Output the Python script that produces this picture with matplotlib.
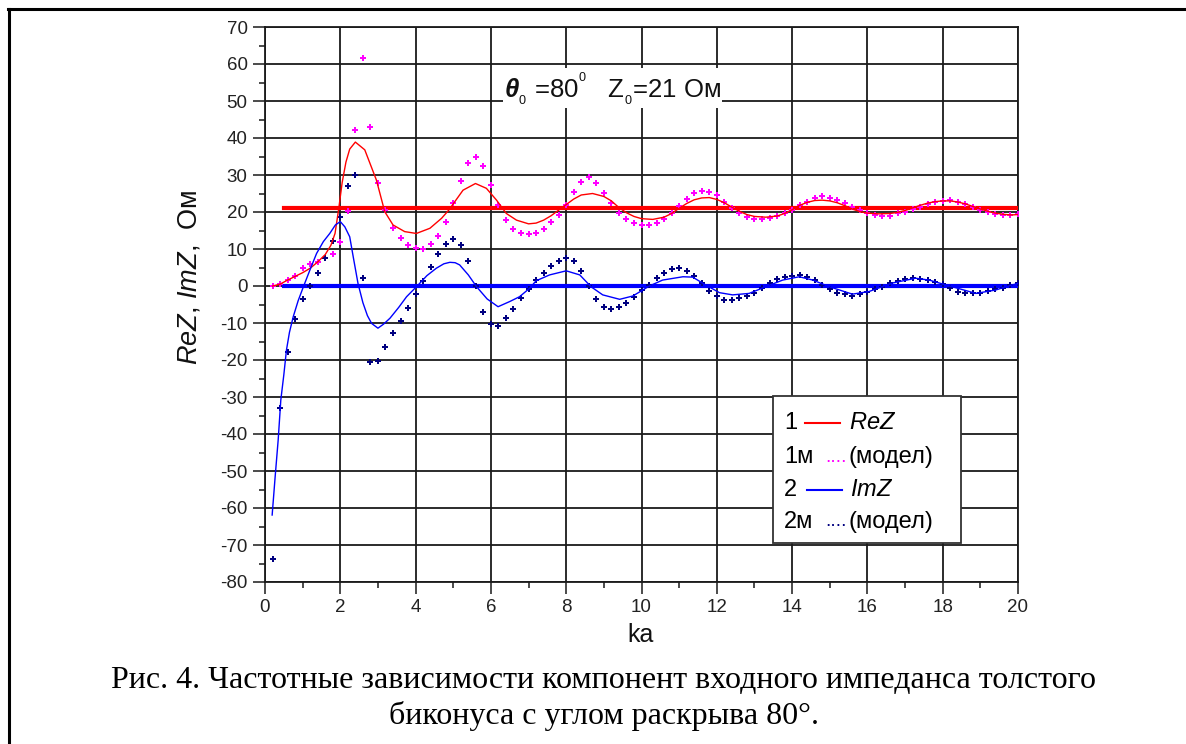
import numpy as np
import matplotlib
matplotlib.use("Agg")
import matplotlib.pyplot as plt
from matplotlib.lines import Line2D
from matplotlib.patches import Rectangle

plt.rcParams['font.family'] = ['Liberation Sans', 'DejaVu Sans']
plt.rcParams['mathtext.fontset'] = 'custom'
plt.rcParams['mathtext.rm'] = 'Liberation Sans'
plt.rcParams['mathtext.it'] = 'Liberation Sans:italic'
plt.rcParams['mathtext.bf'] = 'Liberation Sans:bold:italic'
plt.rcParams['axes.unicode_minus'] = False

#Limiting values: Z0 of the infinite biconical line
Z0 = 21.0
ka_const = [0.5, 20.0]

#Calculated curves (solid)
ka_re = [0.2, 0.4, 0.6, 0.8, 1.0, 1.2, 1.4, 1.6, 1.75, 1.86, 1.96, 2.05, 2.15, 2.25, 2.4,
         2.65, 2.96, 3.18, 3.4, 3.71, 4.02, 4.38, 4.69, 4.88, 5.26, 5.59, 5.88, 6.15, 6.41,
         6.68, 7.0, 7.2, 7.4, 7.6, 7.8, 8.0, 8.2, 8.4, 8.7, 9.0, 9.2, 9.4, 9.6, 9.8, 10.0,
         10.3, 10.6, 10.8, 11.0, 11.2, 11.4, 11.6, 11.8, 12.0, 12.2, 12.4, 12.6, 12.8, 13.0,
         13.3, 13.6, 13.8, 14.0, 14.2, 14.4, 14.6, 14.8, 15.0, 15.2, 15.4, 15.6, 15.8, 16.0,
         16.3, 16.6, 16.8, 17.0, 17.2, 17.4, 17.6, 17.8, 18.0, 18.2, 18.4, 18.6, 18.8, 19.0,
         19.2, 19.4, 19.6, 19.8, 20.0]
re_z = [0.0, 0.5, 1.6, 2.6, 3.6, 4.8, 6.5, 8.5, 11.0, 14.2, 21.0, 28.0, 33.5, 37.0, 38.9,
        36.8, 28.6, 20.1, 16.5, 14.7, 14.2, 15.6, 18.3, 20.5, 25.9, 27.7, 26.4, 23.2, 19.6,
        17.8, 16.8, 17.0, 17.8, 19.0, 20.5, 22.0, 23.5, 24.6, 25.0, 24.2, 23.0, 21.2, 19.8,
        18.8, 18.2, 18.0, 18.6, 19.6, 21.0, 22.3, 23.3, 23.8, 23.9, 23.4, 22.5, 21.3, 20.2,
        19.3, 18.8, 18.6, 18.9, 19.6, 20.6, 21.8, 22.6, 23.1, 23.2, 23.0, 22.5, 21.7, 20.8,
        20.1, 19.7, 19.5, 19.6, 19.9, 20.4, 21.1, 21.8, 22.4, 22.8, 23.0, 23.0, 22.7, 22.2,
        21.5, 20.8, 20.2, 19.7, 19.4, 19.2, 19.3]

ka_im = [0.19, 0.27, 0.35, 0.42, 0.5, 0.57, 0.65, 0.75, 0.88, 1.02, 1.2, 1.37, 1.55, 1.72,
         1.87, 2.0, 2.12, 2.25, 2.35, 2.47, 2.6, 2.72, 2.83, 3.0, 3.15, 3.32, 3.55, 3.76,
         4.07, 4.3, 4.55, 4.75, 4.91, 5.05, 5.17, 5.4, 5.62, 5.9, 6.19, 6.5, 6.76, 7.03,
         7.2, 7.56, 8.0, 8.36, 8.66, 8.97, 9.42, 9.77, 10.21, 10.56, 11.1, 11.36, 11.7,
         12.07, 12.42, 12.86, 13.3, 13.75, 14.19, 14.55, 14.99, 15.6, 16.04, 16.66, 17.28,
         17.64, 18.08, 18.88, 19.4, 19.85, 20.0]
im_z = [-61.9, -51.5, -41.6, -30.8, -24.0, -17.3, -12.5, -8.3, -4.0, -0.2, 4.5, 8.8, 12.0,
        14.2, 16.5, 17.4, 16.0, 13.3, 7.5, 0.7, -4.5, -8.0, -10.1, -11.4, -10.3, -8.7, -5.8,
        -2.9, 0.3, 2.8, 4.8, 6.0, 6.4, 6.3, 5.7, 3.0, -0.2, -3.5, -5.6, -4.2, -2.9, -0.6,
        1.4, 3.0, 4.1, 3.0, -0.2, -2.4, -3.6, -2.7, 0.0, 1.6, 2.5, 2.4, 0.3, -1.8, -2.4,
        -2.0, -0.2, 1.6, 2.5, 1.6, -0.2, -2.2, -1.5, 0.8, 2.1, 1.6, 0.3, -2.0, -1.1, 0.3, 0.7]

#Model points (dotted series), step 0.2 in ka
ka_model = [0.2, 0.4, 0.6, 0.8, 1.0, 1.2, 1.4, 1.6, 1.8, 2.0, 2.2, 2.4, 2.6, 2.8, 3.0, 3.2,
            3.4, 3.6, 3.8, 4.0, 4.2, 4.4, 4.6, 4.8, 5.0, 5.2, 5.4, 5.6, 5.8, 6.0, 6.2, 6.4,
            6.6, 6.8, 7.0, 7.2, 7.4, 7.6, 7.8, 8.0, 8.2, 8.4, 8.6, 8.8, 9.0, 9.2, 9.4, 9.6,
            9.8, 10.0, 10.2, 10.4, 10.6, 10.8, 11.0, 11.2, 11.4, 11.6, 11.8, 12.0, 12.2, 12.4,
            12.6, 12.8, 13.0, 13.2, 13.4, 13.6, 13.8, 14.0, 14.2, 14.4, 14.6, 14.8, 15.0, 15.2,
            15.4, 15.6, 15.8, 16.0, 16.2, 16.4, 16.6, 16.8, 17.0, 17.2, 17.4, 17.6, 17.8, 18.0,
            18.2, 18.4, 18.6, 18.8, 19.0, 19.2, 19.4, 19.6, 19.8, 20.0]
re_model = [0.1, 0.5, 1.6, 2.8, 4.8, 5.9, 6.6, 7.5, 8.6, 12.0, 20.4, 42.2, 61.5, 42.9, 27.8,
            20.5, 15.6, 12.9, 11.0, 10.2, 10.1, 11.4, 13.5, 17.2, 22.5, 28.4, 33.2, 34.8, 32.4,
            27.3, 21.9, 17.8, 15.3, 14.2, 14.1, 14.4, 15.3, 17.4, 19.2, 21.9, 25.3, 28.2, 29.4,
            27.8, 25.1, 22.4, 19.6, 18.0, 17.1, 16.5, 16.5, 16.9, 18.0, 19.6, 21.6, 23.4, 25.1,
            25.7, 25.5, 24.6, 22.8, 21.0, 19.6, 18.7, 18.0, 18.0, 18.3, 18.9, 19.8, 20.5, 21.9,
            22.8, 23.7, 24.3, 23.9, 23.2, 22.4, 21.3, 20.5, 19.6, 19.2, 18.9, 19.0, 19.6, 20.1,
            20.7, 21.4, 22.2, 22.8, 23.1, 23.2, 22.8, 22.2, 21.4, 20.5, 20.1, 19.5, 19.2, 19.2,
            19.5]
im_model = [-73.7, -33.1, -17.8, -8.9, -3.5, 0.0, 3.4, 7.5, 12.2, 18.7, 27.0, 30.0, 2.1, -20.5,
            -20.2, -16.6, -12.8, -9.4, -5.9, -2.2, 1.4, 5.2, 8.6, 11.4, 12.6, 11.1, 6.8, 0.0,
            -6.9, -10.3, -10.8, -8.7, -6.3, -3.2, -0.9, 1.6, 3.6, 5.4, 6.8, 7.5, 6.8, 4.1, 0.0,
            -3.6, -5.6, -6.3, -5.6, -4.5, -2.9, -1.1, 0.3, 2.1, 3.4, 4.5, 4.8, 4.1, 2.7, 0.9,
            -1.3, -2.7, -3.8, -3.8, -3.3, -2.7, -1.8, -0.6, 0.9, 1.8, 2.5, 2.7, 3.0, 2.5, 1.6,
            0.3, -0.9, -1.8, -2.2, -2.6, -2.2, -1.5, -0.9, -0.2, 0.7, 1.4, 1.8, 2.1, 1.8, 1.6,
            1.2, 0.5, -0.6, -1.5, -1.8, -2.0, -1.8, -1.3, -0.9, -0.5, 0.3, 0.7]

W, H = 1186, 744
fig = plt.figure(figsize=(W/100, H/100), dpi=100)

def fx(px):
    return px/W

def fy(py):
    return 1 - py/H

ax = fig.add_axes([fx(265), fy(582), fx(1018) - fx(265), fy(27) - fy(582)])

#Asymptotes
ax.plot(ka_const, [Z0, Z0], color='#ff0000', lw=3.0, zorder=3)
ax.plot(ka_const, [0, 0], color='#0000ff', lw=3.0, zorder=3)

#Model points
ax.plot(ka_model, re_model, 'P', color='#ff00ff', ms=4.5, mew=0, zorder=4)
ax.plot(ka_model, im_model, 'P', color='#000080', ms=4.5, mew=0, zorder=4)

#Calculated curves
ax.plot(ka_re, re_z, color='#ff0000', lw=1.0, zorder=5)
ax.plot(ka_im, im_z, color='#0000ff', lw=1.0, zorder=5)

ax.set_xlim(0, 20)
ax.set_ylim(-80, 70)
ax.set_xticks(np.arange(0, 21, 2))
ax.set_xticks(np.arange(1, 20, 2), minor=True)
ax.set_yticks(np.arange(-80, 71, 10))
ax.set_yticks(np.arange(-75, 70, 10), minor=True)
ax.grid(True, which='major', color='#1a1a1a', lw=1.3, zorder=1)
ax.set_axisbelow(True)
for s in ax.spines.values():
    s.set_color('#1a1a1a')
    s.set_linewidth(1.3)
ax.tick_params(which='major', length=8.5, width=1.1, color='#1a1a1a', labelsize=13.5,
               labelcolor='#222222', pad=4)
ax.tick_params(which='minor', length=4.5, width=1.1, color='#1a1a1a')

#Axis labels
fig.text(fx(641), fy(635), 'ka', fontsize=18, ha='center', va='center', color='#111111')
fig.text(fx(189), fy(277), r'$ReZ$, $ImZ$,  Ом', fontsize=19.5, rotation=90,
         ha='center', va='center', color='#111111')

#Parameters (theta in bold italic)
ax.text(6.35, 53.5, r'$\mathbf{\theta}_{_0}$ =80$^{^0}$   Z$_{_0}$=21 Ом', fontsize=18.5,
        ha='left', va='center', color='#111111', zorder=6,
        bbox=dict(facecolor='white', edgecolor='none', pad=1.0))

#Legend drawn by hand
fig.patches.append(Rectangle((fx(773), fy(543)), fx(961) - fx(773), fy(396) - fy(543),
                             transform=fig.transFigure, facecolor='white',
                             edgecolor='#333333', lw=1.3, zorder=10))
rows = [423, 457, 490, 522]
lfs = 17
fig.text(fx(784), fy(rows[0]), '1', fontsize=lfs, va='center', zorder=11)
fig.lines.append(Line2D([fx(805), fx(840)], [fy(rows[0])] * 2, color='#ff0000', lw=1.5,
                        transform=fig.transFigure, zorder=11))
fig.text(fx(849), fy(rows[0]), r'$ReZ$', fontsize=lfs, va='center', zorder=11)
fig.text(fx(784), fy(rows[1]), '1м', fontsize=lfs, va='center', zorder=11)
fig.text(fx(825), fy(rows[1]), '....', fontsize=lfs - 3, va='center', color='#ff00ff', zorder=11)
fig.text(fx(849), fy(rows[1]), '(модел)', fontsize=lfs, va='center', zorder=11)
fig.text(fx(784), fy(rows[2]), '2', fontsize=lfs, va='center', zorder=11)
fig.lines.append(Line2D([fx(807), fx(842)], [fy(rows[2])] * 2, color='#0000ff', lw=1.5,
                        transform=fig.transFigure, zorder=11))
fig.text(fx(850), fy(rows[2]), r'$ImZ$', fontsize=lfs, va='center', zorder=11)
fig.text(fx(784), fy(rows[3]), '2м', fontsize=lfs, va='center', zorder=11)
fig.text(fx(825), fy(rows[3]), '....', fontsize=lfs - 3, va='center', color='#000080', zorder=11)
fig.text(fx(849), fy(rows[3]), '(модел)', fontsize=lfs, va='center', zorder=11)

#Caption
fig.text(fx(604), fy(680), 'Рис. 4. Частотные зависимости компонент входного импеданса толстого',
         fontsize=23, family='Liberation Serif', ha='center', va='center')
fig.text(fx(604), fy(716), 'биконуса с углом раскрыва 80°.',
         fontsize=23, family='Liberation Serif', ha='center', va='center')

#Page frame (left and top edges only)
fig.lines.append(Line2D([fx(8.5), fx(8.5)], [fy(744), fy(8.5)], color='black', lw=2.2,
                        transform=fig.transFigure))
fig.lines.append(Line2D([fx(7.5), fx(1186)], [fy(8.5), fy(8.5)], color='black', lw=2.2,
                        transform=fig.transFigure))

fig.savefig('out.png', dpi=100)
